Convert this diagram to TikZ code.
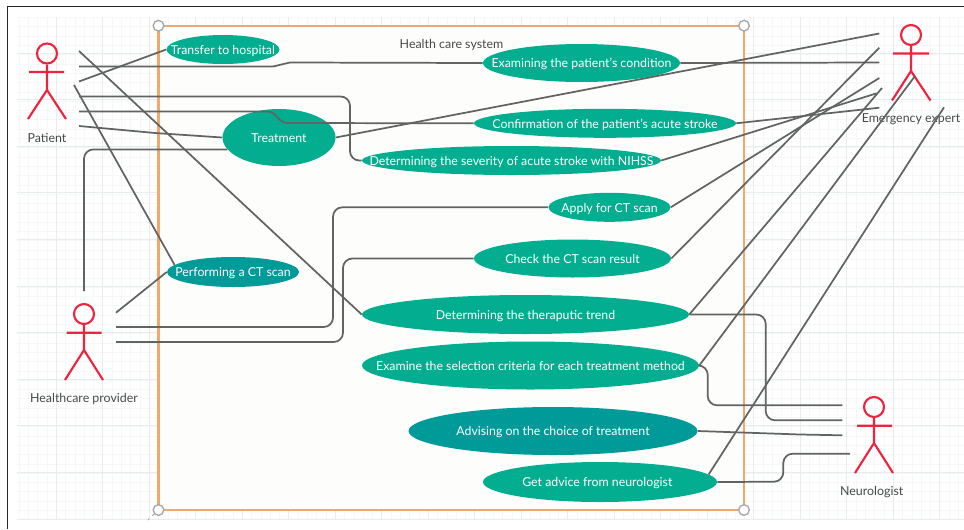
\documentclass[tikz,border=0pt]{standalone}
\usepackage{fontspec}
\setmainfont{Lato}
\usetikzlibrary{shapes.geometric}
\definecolor{tealA}{HTML}{02AE8F}
\definecolor{tealB}{HTML}{009B98}
\definecolor{linkc}{HTML}{626363}
\definecolor{actorc}{HTML}{EE2340}
\definecolor{boxc}{HTML}{F2A76F}
\definecolor{boxfill}{HTML}{FDFDFB}
\definecolor{gridM}{HTML}{E9ECEC}
\definecolor{gridm}{HTML}{F6F7F7}
\definecolor{labelc}{HTML}{484A4A}
\newcommand{\zw}[1]{\makebox[0pt]{\smash{\raisebox{-3.7pt}{#1}}}}
\tikzset{
  ucase/.style n args={2}{ellipse,draw=none,fill=tealA,text=white,inner sep=0pt,
     minimum width=#1*.75pt,minimum height=#2*.75pt,font=\fontsize{9.25}{10}\selectfont},
  darkcase/.style={fill=tealB},
  link/.style={draw=linkc,line width=1.3pt,rounded corners=7pt},
  actorline/.style={draw=actorc,line width=1.6pt},
  head/.style={circle,draw=actorc,line width=1.6pt,inner sep=0pt,minimum size=15pt},
  alabel/.style={text=labelc,font=\fontsize{9.3}{10}\selectfont,inner sep=0pt},
  handle/.style={circle,draw=black!35,line width=1pt,fill=white,inner sep=0pt,minimum size=8pt},
}
\begin{document}
\begin{tikzpicture}[x=.75pt,y=-.75pt]
\useasboundingbox (0,0) rectangle (964,529);
\fill[white] (0,0) rectangle (964,529);
% grid
\foreach \k in {0,...,101} {\draw[gridm,line width=.4pt] ({19+9.3*\k},17) -- ({19+9.3*\k},519);}
\foreach \k in {0,...,54} {\draw[gridm,line width=.4pt] (17,{17.4+9.3*\k}) -- (964,{17.4+9.3*\k});}
\foreach \k in {0,...,19} {\draw[gridM,line width=.6pt] ({56+46.5*\k},17) -- ({56+46.5*\k},519);}
\foreach \k in {0,...,10} {\draw[gridM,line width=.6pt] (17,{53+46.6*\k}) -- (964,{53+46.6*\k});}
% frame
\draw[black!85,line width=1pt] (7.5,529) -- (7.5,6.5) -- (964,6.5);
% system box
\fill[boxfill] (158.5,25.7) rectangle (744,510);
\draw[boxc,line width=1.8pt] (158.5,25.7) rectangle (744,510);
\draw[black!35,dashed,line width=.6pt] (155,513) -- (148,520);
\node[handle] (h1) at (158.5,25.7) {};
\node[handle] (h2) at (744,25.7) {};
\node[handle] (h3) at (158.5,510) {};
\node[handle] (h4) at (744,510) {};
\node[alabel] (sys) at (451.5,45) {Health care system};
% use cases
\node[ucase={113}{29}] (transfer) at (223,49.5) {\zw{Transfer to hospital}};
\node[ucase={197}{38}] (examining) at (581.5,63) {\zw{Examining the patient's condition}};
\node[ucase={113}{57}] (treatment) at (279,137.5) {\zw{Treatment}};
\node[ucase={262}{29}] (confirm) at (605,123.3) {\zw{Confirmation of the patient's acute stroke}};
\node[ucase={299}{29}] (severity) at (511.5,160.5) {\zw{Determining the severity of acute stroke with NIHSS}};
\node[ucase={122}{29}] (apply) at (609.5,207.3) {\zw{Apply for CT scan}};
\node[ucase={197}{38}] (check) at (572.5,258.5) {\zw{Check the CT scan result}};
\node[ucase={132}{30},darkcase] (perform) at (233,272) {\zw{Performing a CT scan}};
\node[ucase={327}{39}] (trend) at (525.5,314.5) {\zw{Determining the theraputic trend}};
\node[ucase={337}{48}] (criteria) at (530.5,365.5) {\zw{Examine the selection criteria for each treatment method}};
\node[ucase={289}{48},darkcase] (advising) at (553,431) {\zw{Advising on the choice of treatment}};
\node[ucase={234}{40}] (getadvice) at (600,482) {\zw{Get advice from neurologist\hspace{4pt}}};
% actors
\node[head] (pHead) at (47,53.5) {};
\draw[actorline] (pHead.south) -- (47,90) (29,72) -- (64,72) (28,119) -- (47,90) -- (66,119);
\node[alabel] (pLabel) at (47,138) {Patient};
\node[head] (eHead) at (911,35) {};
\draw[actorline] (eHead.south) -- (911,71) (893,53.5) -- (929,53.5) (892,100.5) -- (911,71) -- (930.5,100.5);
\node[alabel] (eLabel) at (911,119.5) {Emergency expert};
\node[head] (hHead) at (84,314) {};
\draw[actorline] (hHead.south) -- (84,350) (66.5,332.7) -- (101.5,332.7) (65,380) -- (84,350) -- (103,380);
\node[alabel] (hLabel) at (84,399) {Healthcare provider};
\node[head] (nHead) at (874,407) {};
\draw[actorline] (nHead.south) -- (874,443) (857,425.7) -- (892,425.7) (855,473) -- (874,443) -- (893,473);
\node[alabel] (nLabel) at (871.7,492) {Neurologist};
% free ends
\coordinate (p1) at (79,51);
\coordinate (p2) at (79,66.5);
\coordinate (p3) at (79,81.5);
\coordinate (p4) at (74,85);
\coordinate (p5) at (79,96.5);
\coordinate (p6) at (79,111.5);
\coordinate (p7) at (79,126);
\coordinate (e1) at (879.3,33.5);
\coordinate (e2) at (879.3,47.7);
\coordinate (e3) at (879.3,62.5);
\coordinate (e4) at (879.3,78);
\coordinate (e5) at (876.7,93.3);
\coordinate (e6) at (882,88);
\coordinate (e7) at (879.3,107.7);
\coordinate (e8) at (915,76);
\coordinate (e9) at (944,107.3);
\coordinate (h0) at (84,291);
\coordinate (ha) at (116,312.7);
\coordinate (hb) at (116,327);
\coordinate (hc) at (116,342);
\coordinate (n1) at (842.3,405.3);
\coordinate (n2) at (842.3,420.3);
\coordinate (n3) at (842.3,435.3);
\coordinate (n4) at (850,453.7);
% connectors: patient
\draw[link] (p1) -- (trend.west);
\draw[link,rounded corners=0pt] (p2) -- (273,66.5) -- (290,62.5) -- (examining.west);
\draw[link] (p3) -- (transfer.west);
\draw[link] (p4) -- (perform.173);
\draw[link] (p5) -- (350,96.5) -- (350,160.5) -- (severity.west);
\draw[link,rounded corners=3pt] (p6) -- (272,111.5) -- (283,123) -- (confirm.west);
\draw[link,rounded corners=0pt] (p7) -- (155,133) -- (treatment.west);
% connectors: healthcare provider
\draw[link] (treatment.193.2) -| (h0);
\draw[link] (ha) -- (perform.west);
\draw[link] (hb) -- (333,327) -- (333,207.3) -- (apply.west);
\draw[link] (hc) -- (343,342) -- (343,258.5) -- (check.west);
% connectors: emergency expert
\draw[link] (treatment.east) -- (e1);
\draw[link] (check.east) -- (e2);
\draw[link] (examining.east) -- (e3);
\draw[link] (apply.east) -- (e4);
\draw[link] (severity.east) -- (e5);
\draw[link] (trend.east) -- (e6);
\draw[link] (confirm.east) -- (e7);
\draw[link] (criteria.east) -- (e8);
\draw[link] (getadvice.4.9) -- (e9);
% connectors: neurologist
\draw[link] (trend.east) -- (765.7,314.5) -- (765.7,420.3) -- (n2);
\draw[link] (criteria.east) -- (707.7,365.5) -- (707.7,405.3) -- (n1);
\draw[link,rounded corners=0pt] (advising.east) -- (800,434.5) -- (n3);
\draw[link] (getadvice.east) -- (783.3,481.7) -- (783.3,453.7) -- (n4);
\end{tikzpicture}
\end{document}
